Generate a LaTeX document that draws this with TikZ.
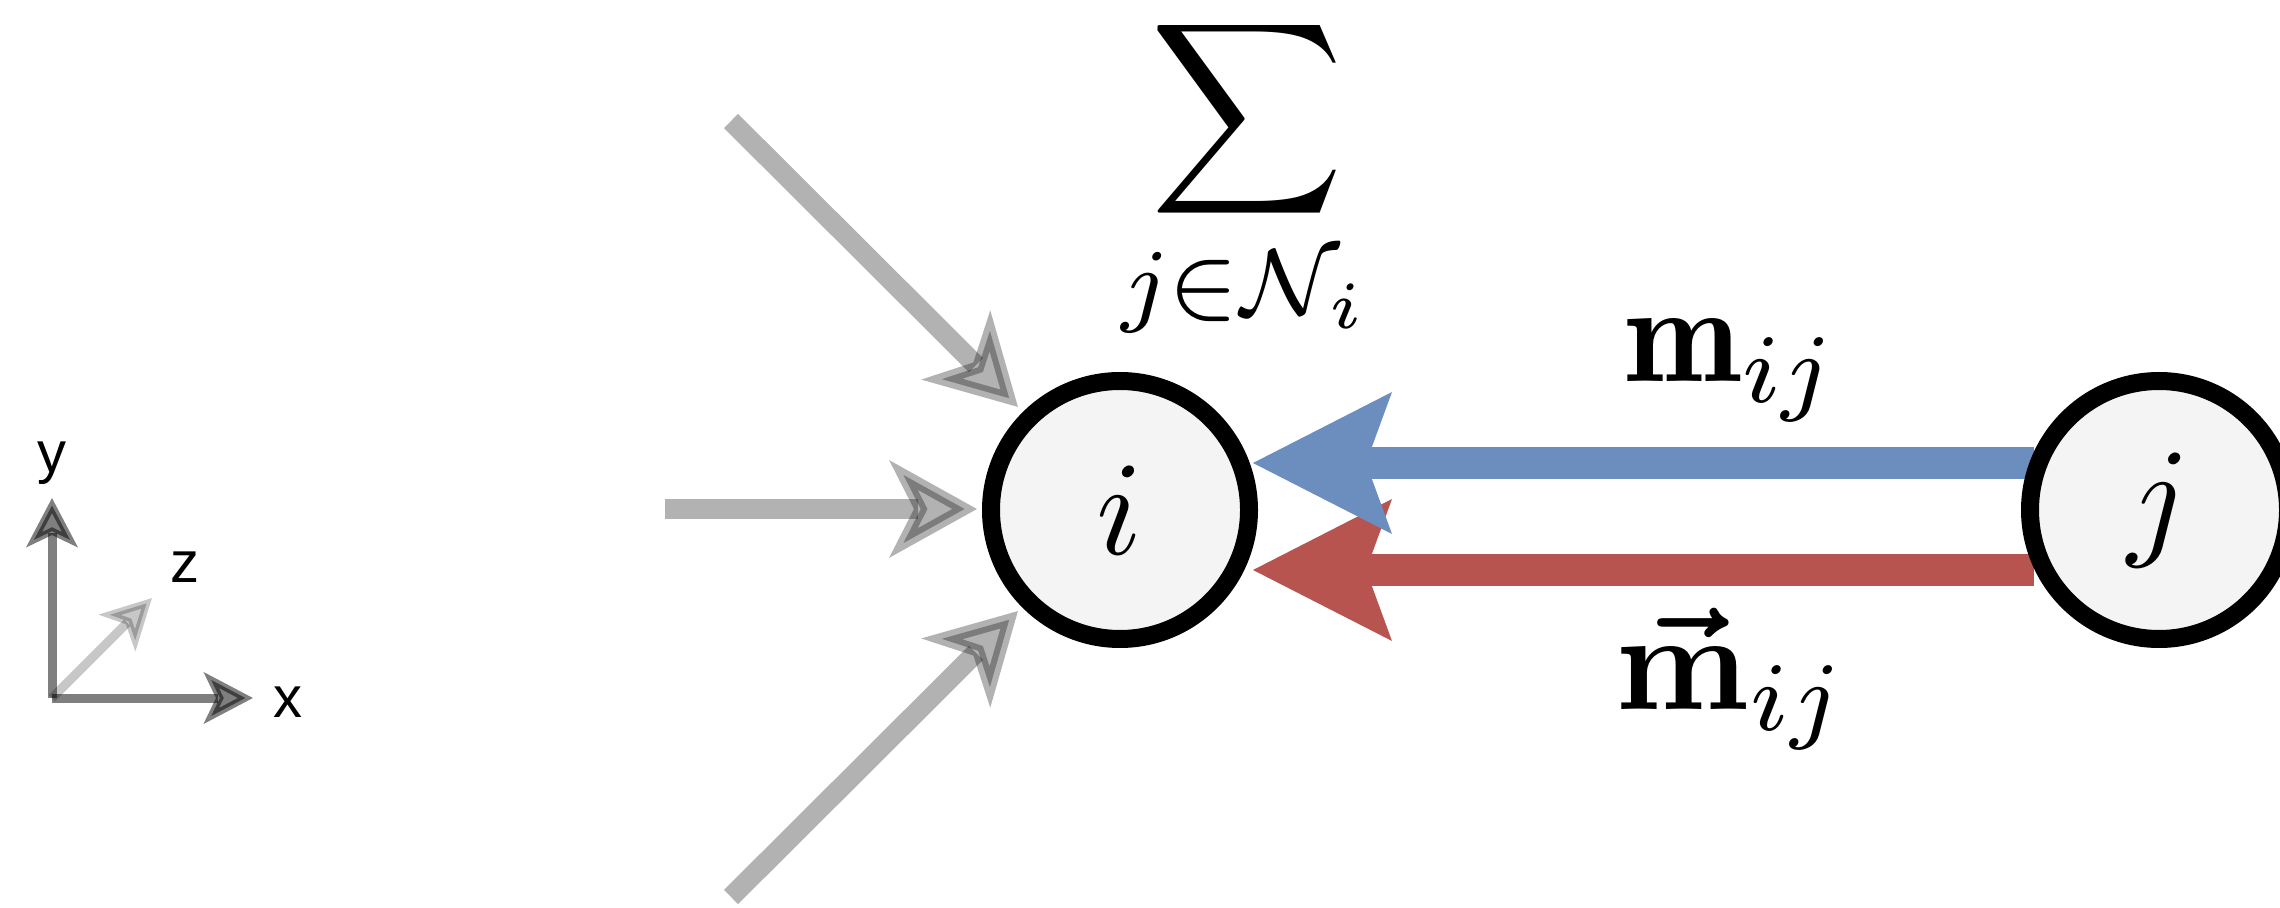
\documentclass[tikz,border=0pt]{standalone}
\usepackage{graphicx}
\usepackage{amsmath}
\usepackage{fontspec}
\newfontfamily\axfont{Liberation Sans}
\usetikzlibrary{arrows.meta}
\definecolor{circfill}{HTML}{F4F4F4}
\definecolor{mblue}{HTML}{6C8EBF}
\definecolor{mred}{HTML}{B85450}
\pgfdeclarelayer{bg}
\pgfsetlayers{bg,main}
\newcommand{\myscaled}[1]{\scalebox{3.35}{#1}}
\newcommand{\mylabelscaled}[1]{\scalebox{3.5}{#1}}
\begin{document}
\begin{tikzpicture}[x=0.25pt,y=-0.25pt,
  every node/.style={inner sep=0pt, outer sep=0pt},
  vertex/.style={circle, draw=black, line width=4.5pt, fill=circfill, minimum size=64.5pt},
  axislabel/.style={font=\axfont\fontsize{14.5}{17}\selectfont},
  grayin/.style={draw=black, opacity=0.3, line width=5pt, -{Stealth[length=21.75pt,width=24pt,inset=6pt,line width=3pt]}},
  axisdark/.style={draw=black, opacity=0.5, line width=2.25pt, -{Stealth[length=12.25pt,width=12.75pt,inset=3pt,line width=1.75pt]}},
  axislight/.style={draw=black, opacity=0.22, line width=2.25pt, -{Stealth[length=12.25pt,width=12.75pt,inset=3pt,line width=1.75pt]}},
  msg/.style={line width=8pt, -{Stealth[length=34.75pt,width=35.5pt,inset=6.5pt,line width=0pt]}},
]
\clip (0,0) rectangle (2280,908);

% axes
\coordinate (o) at (52,698);
\coordinate (ytip) at (52,498);
\coordinate (xtip) at (253,698);
\coordinate (ztip) at (152,598);
\draw[axislight] (o) -- (ztip);
\draw[axisdark] (o) -- (ytip);
\draw[axisdark] (o) -- (xtip);
\node[axislabel] (ylab) at (52,463) {y};
\node[axislabel] (zlab) at (185,567) {z};
\node[axislabel] (xlab) at (288,702) {x};

% nodes
\node[vertex] (i) at (1120,510) {\myscaled{$i$}};
\node[vertex] (j) at (2159,510) {\myscaled{$j$}};

% labels
\node (sum) at (1247,119) {\myscaled{$\displaystyle\sum$}};
\node (sumsub) at (1245,292) {\myscaled{$\scriptstyle j\mkern-0.5mu\in\mathcal{N}_i$}};
\node (mlab) at (1732,370) {\mylabelscaled{$\mathbf{m}_{ij}$}};
\node (vmlab) at (1732,679) {\mylabelscaled{$\boldsymbol{\vec{\mathbf{m}}}_{ij}$}};

% incoming gray arrows
\coordinate (g1s) at (731,121);
\coordinate (g1e) at (1018,407);
\coordinate (g2s) at (665,509);
\coordinate (g2e) at (977,509);
\coordinate (g3s) at (731,897);
\coordinate (g3e) at (1018,611);
\draw[grayin] (g1s) -- (g1e);
\draw[grayin] (g2s) -- (g2e);
\draw[grayin] (g3s) -- (g3e);

% messages
\coordinate (bs) at (2034,463);
\coordinate (be) at (1253,463);
\coordinate (rs) at (2034,570);
\coordinate (re) at (1253,570);
\begin{pgfonlayer}{bg}
\draw[msg, mred] (rs) -- (re);
\draw[msg, mblue] (bs) -- (be);
\end{pgfonlayer}
\end{tikzpicture}
\end{document}
